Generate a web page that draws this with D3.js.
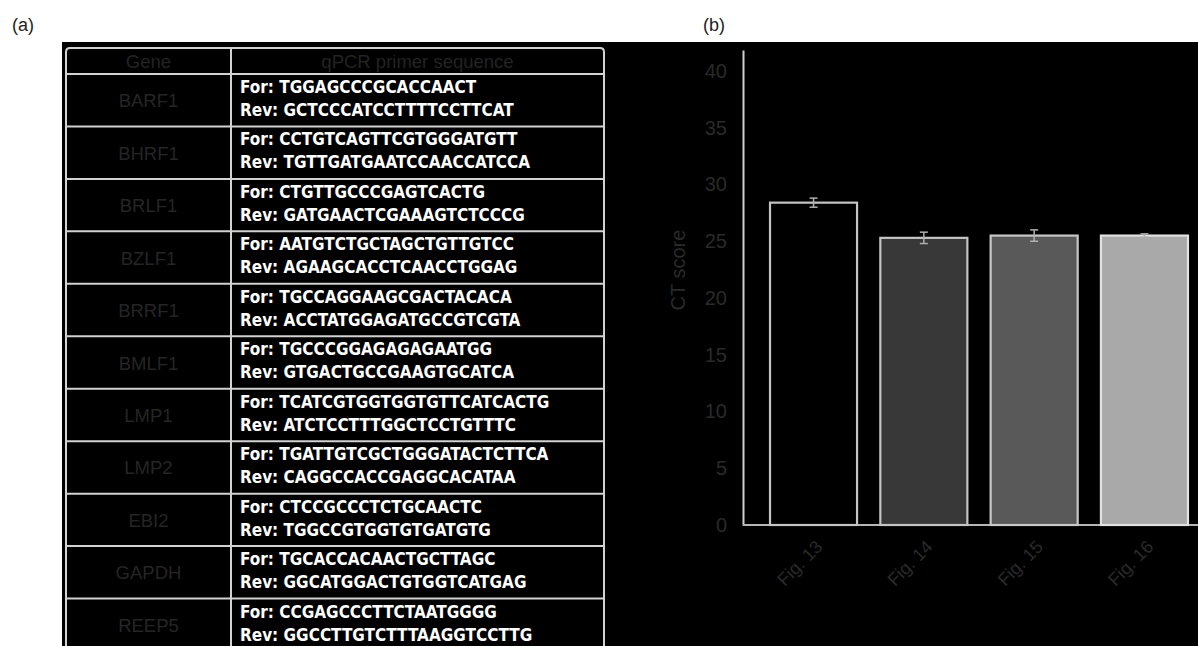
<!DOCTYPE html>
<html><head><meta charset="utf-8">
<script src="https://cdn.jsdelivr.net/npm/d3@7"></script>
<style>
html,body{margin:0;padding:0;background:#fff;}
svg{display:block;}
</style></head>
<body>
<script>
// ---- Data ----
const genes = ["BARF1","BHRF1","BRLF1","BZLF1","BRRF1","BMLF1","LMP1","LMP2","EBI2","GAPDH","REEP5"];
const forwardPrimers = ["TGGAGCCCGCACCAACT","CCTGTCAGTTCGTGGGATGTT","CTGTTGCCCGAGTCACTG","AATGTCTGCTAGCTGTTGTCC","TGCCAGGAAGCGACTACACA","TGCCCGGAGAGAGAATGG","TCATCGTGGTGGTGTTCATCACTG","TGATTGTCGCTGGGATACTCTTCA","CTCCGCCCTCTGCAACTC","TGCACCACAACTGCTTAGC","CCGAGCCCTTCTAATGGGG"];
const reversePrimers = ["GCTCCCATCCTTTTCCTTCAT","TGTTGATGAATCCAACCATCCA","GATGAACTCGAAAGTCTCCCG","AGAAGCACCTCAACCTGGAG","ACCTATGGAGATGCCGTCGTA","GTGACTGCCGAAGTGCATCA","ATCTCCTTTGGCTCCTGTTTC","CAGGCCACCGAGGCACATAA","TGGCCGTGGTGTGATGTG","GGCATGGACTGTGGTCATGAG","GGCCTTGTCTTTAAGGTCCTTG"];
const tableHeaders = ["Gene","qPCR primer sequence"];

const categories = ["Fig. 13","Fig. 14","Fig. 15","Fig. 16"];
const ctScores = [28.4, 25.3, 25.5, 25.5];
const ctErrors = [0.4, 0.5, 0.5, 0.15];
const yTicks = [0,5,10,15,20,25,30,35,40];

const W = 1198, H = 646;
const svg = d3.select("body").append("svg").attr("width", W).attr("height", H);

// backgrounds
svg.append("rect").attr("x",0).attr("y",0).attr("width",W).attr("height",H).attr("fill","#fff");
svg.append("rect").attr("x",62).attr("y",42).attr("width",W-62).attr("height",H-42).attr("fill","#000");

// panel labels
svg.append("text").attr("x",12).attr("y",31).text("(a)")
  .style("font-family","Liberation Sans, Arial, sans-serif").style("font-size","18px").attr("fill","#222");
svg.append("text").attr("x",703).attr("y",31).text("(b)")
  .style("font-family","Liberation Sans, Arial, sans-serif").style("font-size","18px").attr("fill","#222");

// ---- Table (a) ----
const tLeft = 66, tDiv = 231, tRight = 604, tTop = 48, hdrBottom = 74;
const rowY = d3.scaleLinear().domain([0, genes.length]).range([hdrBottom, 651]);
const lineCol = "#d2d2d2";
const tg = svg.append("g");

tg.append("path")
  .attr("d", `M${tLeft},${H+5} L${tLeft},${tTop+4} Q${tLeft},${tTop} ${tLeft+4},${tTop} L${tRight-4},${tTop} Q${tRight},${tTop} ${tRight},${tTop+4} L${tRight},${H+5}`)
  .attr("fill","none").attr("stroke",lineCol).attr("stroke-width",2);
tg.append("line").attr("x1",tDiv).attr("x2",tDiv).attr("y1",tTop).attr("y2",H+5)
  .attr("stroke",lineCol).attr("stroke-width",2);
tg.selectAll("line.hl").data(d3.range(genes.length)).join("line").attr("class","hl")
  .attr("x1",tLeft).attr("x2",tRight)
  .attr("y1",d=>rowY(d)).attr("y2",d=>rowY(d))
  .attr("stroke",lineCol).attr("stroke-width",2);

const dimFont = "Liberation Sans, Arial, Helvetica, sans-serif";
tg.append("text").attr("x",(tLeft+tDiv)/2).attr("y",68).attr("text-anchor","middle")
  .text(tableHeaders[0]).style("font-family",dimFont).style("font-size","18.5px").attr("fill","#232323");
tg.append("text").attr("x",(tDiv+tRight)/2).attr("y",68).attr("text-anchor","middle")
  .text(tableHeaders[1]).style("font-family",dimFont).style("font-size","18.5px").attr("fill","#232323");

tg.selectAll("text.gene").data(genes).join("text").attr("class","gene")
  .attr("x",(tLeft+tDiv)/2).attr("y",(d,i)=>(rowY(i)+rowY(i+1))/2+7)
  .attr("text-anchor","middle").text(d=>d)
  .style("font-family",dimFont).style("font-size","18.5px").attr("fill","#252525");

const primerFont = "'DejaVu Sans Condensed', 'DejaVu Sans', sans-serif";
tg.selectAll("text.fwd").data(forwardPrimers).join("text").attr("class","fwd")
  .attr("x",240).attr("y",(d,i)=>rowY(i)+19)
  .text(d=>"For: "+d)
  .style("font-family",primerFont).style("font-size","17px").style("font-weight","bold").attr("fill","#fff");
tg.selectAll("text.rev").data(reversePrimers).join("text").attr("class","rev")
  .attr("x",240).attr("y",(d,i)=>rowY(i)+42)
  .text(d=>"Rev: "+d)
  .style("font-family",primerFont).style("font-size","17px").style("font-weight","bold").attr("fill","#fff");

// ---- Bar chart (b) ----
const axX = 743;
const y = d3.scaleLinear().domain([0, 41.85]).range([525, 50]);
const x = d3.scaleBand().domain(categories).range([axX, 1215]).paddingInner(0.211).paddingOuter(0.245);
const fills = ["#000000","#383838","#595959","#a9a9a9"];
const strokes = ["#c4c4c4","#c4c4c4","#c8c8c8","#e2e2e2"];
const bg = svg.append("g");

const yAxis = d3.axisLeft(y).tickValues(yTicks).tickSize(0).tickPadding(16);
const yg = bg.append("g").attr("transform",`translate(${axX},0)`).call(yAxis);
yg.select(".domain").attr("stroke","#d0d0d0").attr("stroke-width",2);
yg.selectAll("text").style("font-family",dimFont).style("font-size","20px").attr("fill","#2a2a2a");

bg.append("line").attr("x1",axX).attr("x2",W).attr("y1",y(0)).attr("y2",y(0))
  .attr("stroke","#b5b5b5").attr("stroke-width",2);

bg.selectAll("rect.bar").data(ctScores).join("rect").attr("class","bar")
  .attr("x",(d,i)=>x(categories[i])).attr("width",x.bandwidth())
  .attr("y",d=>y(d)).attr("height",d=>y(0)-y(d))
  .attr("fill",(d,i)=>fills[i]).attr("stroke",(d,i)=>strokes[i]).attr("stroke-width",2.2);

const eg = bg.selectAll("g.err").data(ctScores).join("g").attr("class","err");
eg.append("line")
  .attr("x1",(d,i)=>x(categories[i])+x.bandwidth()/2).attr("x2",(d,i)=>x(categories[i])+x.bandwidth()/2)
  .attr("y1",(d,i)=>y(d+ctErrors[i])).attr("y2",(d,i)=>y(d-ctErrors[i]))
  .attr("stroke","#b0b0b0").attr("stroke-width",1.5);
[1,-1].forEach(s=>{
  eg.append("line")
    .attr("x1",(d,i)=>x(categories[i])+x.bandwidth()/2-4).attr("x2",(d,i)=>x(categories[i])+x.bandwidth()/2+4)
    .attr("y1",(d,i)=>y(d+s*ctErrors[i])).attr("y2",(d,i)=>y(d+s*ctErrors[i]))
    .attr("stroke","#b0b0b0").attr("stroke-width",1.5);
});

bg.selectAll("text.xl").data(categories).join("text").attr("class","xl")
  .attr("transform",d=>`translate(${x(d)+x.bandwidth()/2+10},${y(0)+23}) rotate(-45)`)
  .attr("text-anchor","end").text(d=>d)
  .style("font-family",dimFont).style("font-size","18px").attr("fill","#2a2a2a");

bg.append("text").attr("transform","translate(685,270) rotate(-90)")
  .attr("text-anchor","middle").text("CT score")
  .style("font-family",dimFont).style("font-size","20px").attr("fill","#2a2a2a");
</script>
</body></html>
